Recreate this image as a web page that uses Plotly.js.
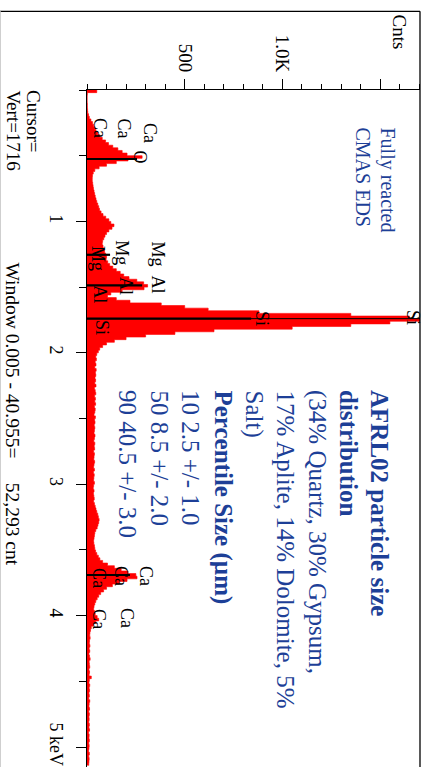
<!DOCTYPE html>
<html><head><meta charset="utf-8">
<script src="https://cdn.plot.ly/plotly-3.0.1.min.js"></script>
<style>html,body{margin:0;padding:0;background:#fff;overflow:hidden}#chart{width:429px;height:767px}</style>
</head><body><div id="chart"></div>
<script>
// ---- data ----
const energyStart = 0;      // keV of first channel
const energyStep = 0.02;    // keV per channel
const counts = [
  50, 2, 1, 1, 1, 2, 2, 3, 4, 8,
  12, 20, 28, 34, 40, 46, 55, 65, 78, 95,
  110, 132, 158, 180, 205, 282, 210, 150, 100, 62,
  40, 32, 28, 27, 27, 29, 31, 33, 36, 39,
  42, 46, 50, 55, 60, 64, 72, 82, 96, 112,
  122, 138, 128, 112, 100, 92, 86, 80, 78, 82,
  85, 90, 95, 100, 98, 106, 116, 132, 150, 170,
  188, 215, 255, 290, 310, 292, 180, 122, 105, 150,
  220, 380, 500, 620, 880, 1350, 1650, 1900, 1550, 1350,
  1050, 650, 450, 300, 200, 140, 100, 80, 65, 58,
  50, 45, 48, 42, 46, 40, 47, 43, 45, 41,
  44, 40, 46, 38, 42, 45, 39, 43, 40, 44,
  38, 42, 40, 36, 43, 39, 41, 37, 40, 38,
  36, 41, 38, 35, 40, 37, 39, 34, 38, 36,
  35, 39, 36, 34, 38, 33, 37, 35, 34, 38,
  34, 32, 36, 33, 35, 37, 34, 38, 42, 46,
  50, 55, 58, 62, 60, 56, 52, 45, 40, 38,
  36, 34, 35, 38, 40, 44, 50, 58, 66, 80,
  105, 140, 175, 210, 250, 256, 205, 165, 130, 100,
  85, 70, 60, 52, 45, 40, 36, 34, 38, 42,
  52, 60, 45, 32, 22, 18, 15, 14, 16, 13,
  12, 15, 11, 14, 10, 13, 16, 11, 12, 14,
  10, 13, 11, 22, 12, 10, 14, 11, 13, 10,
  12, 9, 14, 11, 10, 13, 9, 12, 10, 11,
  9, 12, 10, 13, 8, 11, 10, 12, 9, 11,
  10, 8, 12, 9, 11, 10, 9, 8
];
const countTickVals = [500, 1000, 1500];
const countTickText = ['500', '1.0K', ''];
const keVTickVals = [1, 2, 3, 4, 5];
const keVTickText = ['1', '2', '3', '4', '5 keV'];
const countMax = 1704;
const keVMax = 5.152;

// KLM element markers
const markerNames = ['O', 'Mg', 'Al', 'Si', 'Ca'];
const markerEnergies = [0.525, 1.254, 1.487, 1.740, 3.691];
const markerHeights = [256, 118, 282, 840, 220];
const siFullHeight = 1716;

// element label texts with (counts, keV) anchor
const labelTexts = ['Ca','Ca','Ca','O','Mg','Mg','Mg','Al','Al','Al','Si','Si','Si','Ca','Ca','Ca','Ca','Ca'];
const labelCounts = [66, 187, 322, 276, 361, 177, 56, 361, 200, 66, 896, 1668, 77, 302, 174, 61, 205, 61];
const labelKeV = [0.289, 0.289, 0.327, 0.514, 1.248, 1.240, 1.286, 1.476, 1.492, 1.553, 1.735, 1.735, 1.804, 3.699, 3.699, 3.714, 4.018, 4.026];

const noteLines = ['<b>AFRL02 particle size</b>', '<b>distribution</b>', '(34% Quartz, 30% Gypsum,',
  '17% Aplite, 14% Dolomite, 5%', 'Salt)', '<b>Percentile Size (µm)</b>',
  '10 2.5 +/- 1.0', '50 8.5 +/- 2.0', '90 40.5 +/- 3.0'];
const titleLines = ['Fully reacted', 'CMAS EDS'];

// ---- layout geometry ----
const L = 87, R = 9, T = 90, B = 0, Wd = 429, Ht = 767;
const PW = Wd - L - R, PH = Ht - T - B;
const px = v => (v - L) / PW;
const py = v => 1 - (v - T) / PH;
const serif = 'Liberation Serif, Times New Roman, serif';
const blue = '#1d3f97';

// markers
const mx = [], my = [];
markerEnergies.forEach((e, i) => { mx.push(0, markerHeights[i], null); my.push(e, e, null); });

const traces = [
  { type: 'scatter', mode: 'lines', x: counts, y0: energyStart, dy: energyStep,
    line: { color: 'rgb(255,0,0)', width: 0.6, shape: 'vh' }, fill: 'tozerox', fillcolor: 'rgb(255,0,0)',
    hoverinfo: 'skip', showlegend: false },
  { type: 'scatter', mode: 'lines', x: mx, y: my, line: { color: 'black', width: 2.2 }, showlegend: false, hoverinfo: 'skip' },
  { type: 'scatter', mode: 'lines', x: [0, siFullHeight], y: [markerEnergies[3], markerEnergies[3]], line: { color: 'black', width: 1 }, showlegend: false, hoverinfo: 'skip' }
];

const ann = [];
labelTexts.forEach((t, i) => ann.push({ x: labelCounts[i], y: labelKeV[i], xref: 'x', yref: 'y', text: t, showarrow: false,
  textangle: 90, xanchor: 'center', yanchor: 'middle', font: { family: serif, size: 18, color: 'black' } }));
noteLines.forEach((t, i) => ann.push({ x: px(380 - 31.5 * i), y: py(389), xref: 'paper', yref: 'paper', text: t, showarrow: false,
  textangle: 90, xanchor: 'center', yanchor: 'top', borderpad: 0, font: { family: serif, size: 25, color: blue } }));
titleLines.forEach((t, i) => ann.push({ x: px(387 - 25 * i), y: py(126), xref: 'paper', yref: 'paper', text: t, showarrow: false,
  textangle: 90, xanchor: 'center', yanchor: 'top', borderpad: 0, font: { family: serif, size: 20, color: blue } }));
const blackNote = (t, x, ytop, size) => ann.push({ x: px(x), y: py(ytop), xref: 'paper', yref: 'paper', text: t, showarrow: false,
  textangle: 90, xanchor: 'center', yanchor: 'top', borderpad: 0, font: { family: serif, size: size || 19, color: 'black' } });
blackNote('Cursor=', 33, 89);
blackNote('Vert=1716', 12.5, 89);
blackNote('Window 0.005 - 40.955=&nbsp;&nbsp;&nbsp;&nbsp; 52,293 cnt', 12, 261, 19.5);
ann.push({ x: px(399), y: py(31.5), xref: 'paper', yref: 'paper', text: 'Cnts', showarrow: false, textangle: 90,
  xanchor: 'center', yanchor: 'middle', font: { family: serif, size: 19, color: 'black' } });

const shapes = [
  { type: 'line', xref: 'paper', yref: 'paper', x0: px(0), x1: 1, y0: py(11.3), y1: py(11.3), line: { color: 'black', width: 1.3 } },
  { type: 'line', xref: 'paper', yref: 'paper', x0: 1, x1: 1, y0: py(11.3), y1: py(767), line: { color: 'black', width: 1.3 } },
  { type: 'line', xref: 'paper', yref: 'paper', x0: px(0.5), x1: px(0.5), y0: py(11.3), y1: py(767), line: { color: '#cfcfcf', width: 1 } }
];

const layout = {
  width: Wd, height: Ht, margin: { l: L, r: R, t: T, b: B, pad: 0 },
  paper_bgcolor: 'white', plot_bgcolor: 'white', showlegend: false,
  xaxis: { side: 'top', range: [0, countMax], tickmode: 'array', tickvals: countTickVals, ticktext: countTickText,
    ticks: 'outside', ticklen: 10, tickwidth: 1, tickcolor: 'black', showline: true, linecolor: 'black', linewidth: 1,
    showgrid: false, zeroline: false, tickangle: 90, automargin: false,
    tickfont: { family: serif, size: 19, color: 'black' },
    minor: { dtick: 100, tick0: 0, ticks: 'outside', ticklen: 5, tickwidth: 1, tickcolor: 'black', showgrid: false } },
  yaxis: { range: [keVMax, 0], tickmode: 'array', tickvals: keVTickVals, ticktext: keVTickText,
    ticks: 'outside', ticklen: 10, tickwidth: 1, tickcolor: 'black', showline: true, linecolor: 'black', linewidth: 1,
    showgrid: false, zeroline: false, tickangle: 90, automargin: false, ticklabelstandoff: 4,
    tickfont: { family: serif, size: 18, color: 'black' },
    minor: { dtick: 0.5, tick0: 0, ticks: 'outside', ticklen: 7, tickwidth: 1, tickcolor: 'black', showgrid: false } },
  annotations: ann, shapes: shapes
};
Plotly.newPlot('chart', traces, layout, { displayModeBar: false, staticPlot: true });
</script></body></html>
